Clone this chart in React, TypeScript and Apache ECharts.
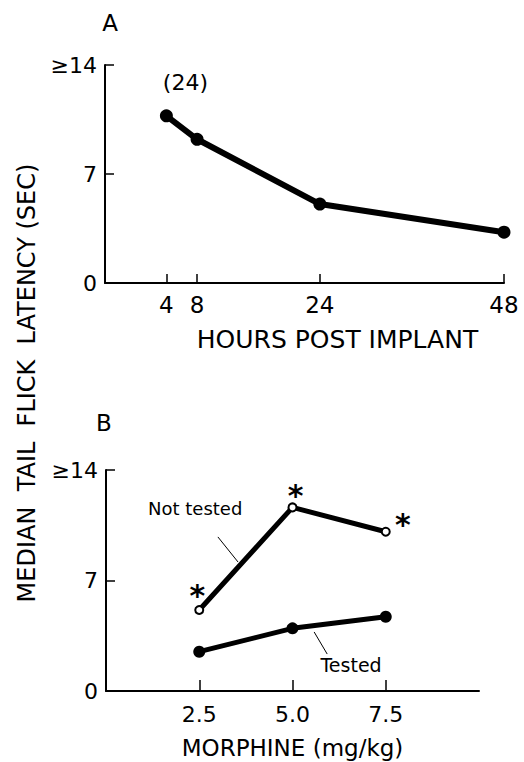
import React, { useEffect, useRef } from "react";
import * as echarts from "echarts";

// Panel A: hours post implant vs median tail flick latency
const hoursA = [4, 8, 24, 48];
const latencyA = [10.74, 9.23, 5.07, 3.26];
const hourTicks = [4, 8, 24, 48];

// Panel B: morphine dose vs latency
const dosesB = [2.5, 5.0, 7.5];
const notTestedB = [5.13, 11.63, 10.09];
const testedB = [2.49, 3.97, 4.7];
const doseTicks = [2.5, 5.0, 7.5];

const yTickLabels: Record<number, string> = { 0: "0", 7: "7", 14: "≥14" };

// annotation anchors (data coordinates)
const notTestedLabelPos = [2.39, 11.59];
const notTestedLeader = [[3.0, 9.76], [3.54, 8.17]];
const testedLabelPos = [6.57, 1.65];
const testedLeader = [[5.58, 3.74], [5.93, 2.34]];
const asteriskOffsets = [[-2, -15], [3, -12], [17, -7]];

const FONT = "DejaVu Sans";

export default function App() {
  const ref = useRef<HTMLDivElement>(null);
  useEffect(() => {
    const chart = echarts.init(ref.current!, null, { renderer: "svg" });
    const axisLine = { show: true, onZero: false, lineStyle: { color: "#000", width: 2 } };
    const tickStyle = { show: true, inside: true, length: 9, lineStyle: { color: "#000", width: 1.5 } };
    const labelStyle = { color: "#000", fontFamily: FONT, fontSize: 22 };
    const yAxisCommon = {
      type: "value",
      min: 0,
      max: 14,
      interval: 7,
      axisLine,
      axisTick: tickStyle,
      splitLine: { show: false },
      axisLabel: { ...labelStyle, margin: 8, formatter: (v: number) => yTickLabels[v] ?? String(v) },
    };
    chart.setOption({
      animation: false,
      backgroundColor: "#fff",
      grid: [
        { left: 105, top: 65, width: 399, height: 218, outerBoundsMode: "none", containLabel: false },
        { left: 106, top: 470, width: 373, height: 221, outerBoundsMode: "none", containLabel: false },
      ],
      xAxis: [
        {
          type: "value",
          gridIndex: 0,
          min: -4,
          max: 48,
          axisLine,
          axisTick: { ...tickStyle, customValues: hourTicks },
          axisLabel: { ...labelStyle, fontSize: 23, margin: 10, customValues: hourTicks },
          splitLine: { show: false },
          name: "HOURS POST IMPLANT",
          nameLocation: "middle",
          nameGap: 44,
          nameTextStyle: { color: "#000", fontFamily: FONT, fontSize: 25, padding: [0, 0, 0, 66] },
        },
        {
          type: "value",
          gridIndex: 1,
          min: 0,
          max: 10,
          axisLine,
          axisTick: { ...tickStyle, length: 11, customValues: doseTicks },
          axisLabel: { ...labelStyle, margin: 12, customValues: doseTicks, formatter: (v: number) => v.toFixed(1) },
          splitLine: { show: false },
          name: "MORPHINE (mg/kg)",
          nameLocation: "middle",
          nameGap: 45,
          nameTextStyle: { color: "#000", fontFamily: FONT, fontSize: 23 },
        },
      ],
      yAxis: [
        { ...yAxisCommon, gridIndex: 0 },
        { ...yAxisCommon, gridIndex: 1 },
      ],
      graphic: [
        {
          type: "text",
          x: 27,
          y: 383,
          rotation: Math.PI / 2,
          style: {
            text: "MEDIAN  TAIL  FLICK  LATENCY (SEC)",
            fontFamily: FONT,
            fontSize: 24,
            fill: "#000",
            align: "center",
            verticalAlign: "middle",
            textAlign: "center",
            textVerticalAlign: "middle",
          },
        },
        {
          type: "text",
          x: 110,
          y: 23,
          style: { text: "A", fontFamily: FONT, fontSize: 23, fill: "#000", align: "center", verticalAlign: "middle", textAlign: "center", textVerticalAlign: "middle" },
        },
        {
          type: "text",
          x: 104,
          y: 423,
          style: { text: "B", fontFamily: FONT, fontSize: 23, fill: "#000", align: "center", verticalAlign: "middle", textAlign: "center", textVerticalAlign: "middle" },
        },
      ],
      series: [
        {
          type: "line",
          xAxisIndex: 0,
          yAxisIndex: 0,
          data: hoursA.map((h, i) => ({
            value: [h, latencyA[i]],
            label:
              i === 0
                ? { show: true, formatter: "(24)", position: "inside", offset: [19, -33], color: "#000", fontFamily: FONT, fontSize: 22 }
                : { show: false },
          })),
          symbol: "circle",
          symbolSize: 13,
          itemStyle: { color: "#000" },
          lineStyle: { color: "#000", width: 6 },
        },
        {
          type: "line",
          name: "Not tested",
          xAxisIndex: 1,
          yAxisIndex: 1,
          z: 3,
          data: dosesB.map((d, i) => ({
            value: [d, notTestedB[i]],
            label: {
              show: true,
              formatter: "*",
              position: "inside",
              offset: asteriskOffsets[i],
              color: "#000",
              fontFamily: FONT,
              fontWeight: "bold",
              fontSize: 30,
            },
          })),
          symbol: "circle",
          symbolSize: 8,
          itemStyle: { color: "#fff", borderColor: "#000", borderWidth: 2 },
          lineStyle: { color: "#000", width: 5 },
          markPoint: {
            symbol: "circle",
            symbolSize: 0,
            silent: true,
            data: [
              {
                coord: notTestedLabelPos,
                label: { show: true, position: "inside", formatter: "Not tested", color: "#000", fontFamily: FONT, fontSize: 18 },
              },
            ],
          },
          markLine: {
            symbol: ["none", "none"],
            silent: true,
            label: { show: false },
            lineStyle: { color: "#000", width: 1, type: "solid" },
            data: [[{ coord: notTestedLeader[0] }, { coord: notTestedLeader[1] }]],
          },
        },
        {
          type: "line",
          name: "Tested",
          xAxisIndex: 1,
          yAxisIndex: 1,
          data: dosesB.map((d, i) => [d, testedB[i]]),
          symbol: "circle",
          symbolSize: 12,
          itemStyle: { color: "#000" },
          lineStyle: { color: "#000", width: 5 },
          markPoint: {
            symbol: "circle",
            symbolSize: 0,
            silent: true,
            data: [
              {
                coord: testedLabelPos,
                label: { show: true, position: "inside", formatter: "Tested", color: "#000", fontFamily: FONT, fontSize: 19 },
              },
            ],
          },
          markLine: {
            symbol: ["none", "none"],
            silent: true,
            label: { show: false },
            lineStyle: { color: "#000", width: 1, type: "solid" },
            data: [[{ coord: testedLeader[0] }, { coord: testedLeader[1] }]],
          },
        },
      ],
    });
    return () => chart.dispose();
  }, []);
  return <div ref={ref} style={{ position: "fixed", left: 0, top: 0, width: 524, height: 762 }} />;
}
